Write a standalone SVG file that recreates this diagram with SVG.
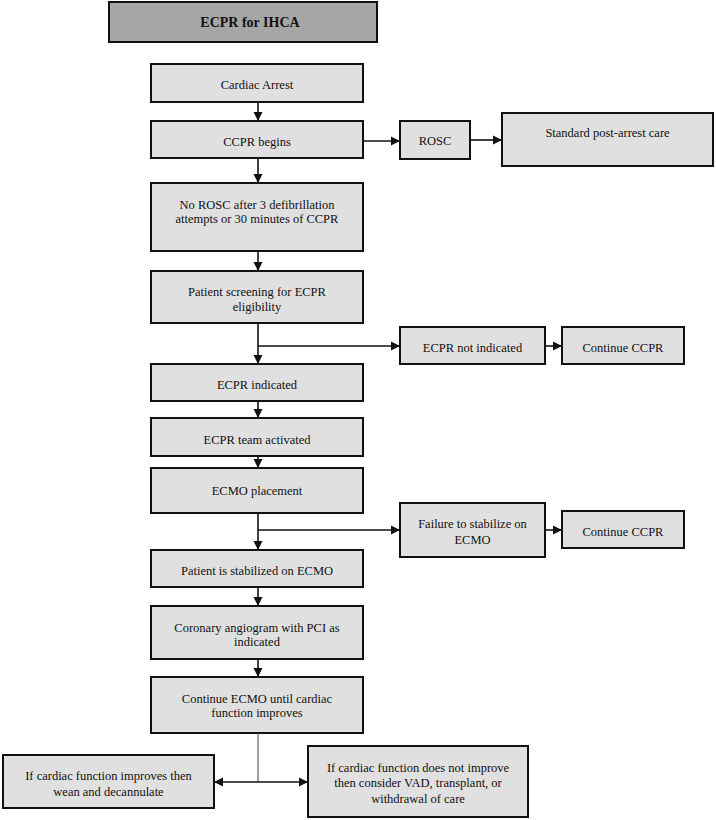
<svg xmlns="http://www.w3.org/2000/svg" width="716" height="820" viewBox="0 0 716 820">
<style>
.box{fill:#e0e0e0;stroke:#111;stroke-width:2}
.title{fill:#a6a6a6;stroke:#111;stroke-width:2}
.c{stroke:#111;stroke-width:1.6;fill:none}
.thin{stroke:#444;stroke-width:1;fill:none}
</style>
<defs>
<marker id="ah" viewBox="0 0 10 10" refX="10" refY="5" markerWidth="9" markerHeight="10" markerUnits="userSpaceOnUse" orient="auto">
<path d="M0,0 L10,5 L0,10 z" fill="#111"/>
</marker>
</defs>
<rect width="716" height="820" fill="#fff"/>
<g font-family="'Liberation Serif', 'Times New Roman', 'DejaVu Serif', serif" font-size="12.5" fill="#111" text-anchor="middle">
<g id="title"><rect class="title" x="109" y="2" width="268" height="40"/><text font-size="14" font-weight="bold" x="250" y="27">ECPR for IHCA</text></g>
<g id="cardiac-arrest"><rect class="box" x="151" y="64" width="212" height="38"/><text x="257" y="89">Cardiac Arrest</text></g>
<g id="ccpr-begins"><rect class="box" x="151" y="121" width="212" height="37"/><text x="257" y="146">CCPR begins</text></g>
<g id="rosc"><rect class="box" x="400" y="121" width="70" height="38"/><text x="435" y="145">ROSC</text></g>
<g id="standard-care"><rect class="box" x="502" y="113" width="211" height="53"/><text x="607.5" y="137">Standard post-arrest care</text></g>
<g id="no-rosc"><rect class="box" x="151" y="183" width="212" height="68"/><text x="257" y="208.5">No ROSC after 3 defibrillation</text><text x="257" y="222.5">attempts or 30 minutes of CCPR</text></g>
<g id="screening"><rect class="box" x="151" y="271" width="212" height="52"/><text x="257" y="296">Patient screening for ECPR</text><text x="257" y="310.5">eligibility</text></g>
<g id="ecpr-not-indicated"><rect class="box" x="400" y="327" width="145" height="37"/><text x="472.5" y="352">ECPR not indicated</text></g>
<g id="continue-ccpr-1"><rect class="box" x="562" y="327" width="122" height="37"/><text x="623" y="352">Continue CCPR</text></g>
<g id="ecpr-indicated"><rect class="box" x="151" y="364" width="212" height="37"/><text x="257" y="389">ECPR indicated</text></g>
<g id="team-activated"><rect class="box" x="151" y="418" width="212" height="38"/><text x="257" y="443.5">ECPR team activated</text></g>
<g id="ecmo-placement"><rect class="box" x="151" y="468" width="212" height="45"/><text x="257" y="494.5">ECMO placement</text></g>
<g id="failure"><rect class="box" x="400" y="503" width="145" height="54"/><text x="472.5" y="528">Failure to stabilize on</text><text x="472.5" y="543.5">ECMO</text></g>
<g id="continue-ccpr-2"><rect class="box" x="562" y="511" width="122" height="37"/><text x="623" y="536">Continue CCPR</text></g>
<g id="stabilized"><rect class="box" x="151" y="550" width="212" height="37"/><text x="257" y="574.5">Patient is stabilized on ECMO</text></g>
<g id="angiogram"><rect class="box" x="151" y="606" width="212" height="53"/><text x="257" y="631.5">Coronary angiogram with PCI as</text><text x="257" y="646">indicated</text></g>
<g id="continue-ecmo"><rect class="box" x="151" y="677" width="212" height="56"/><text x="257" y="703">Continue ECMO until cardiac</text><text x="257" y="717">function improves</text></g>
<g id="wean"><rect class="box" x="3" y="755" width="211" height="53"/><text x="108.5" y="780">If cardiac function improves then</text><text x="108.5" y="796">wean and decannulate</text></g>
<g id="no-improve"><rect class="box" x="308" y="746" width="220" height="71"/><text x="418" y="772">If cardiac function does not improve</text><text x="418" y="787">then consider VAD, transplant, or</text><text x="418" y="803">withdrawal of care</text></g>
</g>
<g id="connectors">
<line class="c" x1="258" y1="102" x2="258" y2="121" marker-end="url(#ah)"/>
<line class="c" x1="258" y1="158" x2="258" y2="183" marker-end="url(#ah)"/>
<line class="c" x1="363" y1="141" x2="400" y2="141" marker-end="url(#ah)"/>
<line class="c" x1="470" y1="140" x2="502" y2="140" marker-end="url(#ah)"/>
<line class="c" x1="258" y1="251" x2="258" y2="271" marker-end="url(#ah)"/>
<line class="c" x1="258" y1="323" x2="258" y2="364" marker-end="url(#ah)"/>
<line class="c" x1="258" y1="346" x2="400" y2="346" marker-end="url(#ah)"/>
<line class="c" x1="545" y1="346" x2="562" y2="346" marker-end="url(#ah)"/>
<line class="c" x1="258" y1="401" x2="258" y2="418" marker-end="url(#ah)"/>
<line class="c" x1="258" y1="456" x2="258" y2="468" marker-end="url(#ah)"/>
<line class="c" x1="258" y1="513" x2="258" y2="550" marker-end="url(#ah)"/>
<line class="c" x1="258" y1="530" x2="400" y2="530" marker-end="url(#ah)"/>
<line class="c" x1="545" y1="530" x2="562" y2="530" marker-end="url(#ah)"/>
<line class="c" x1="258" y1="587" x2="258" y2="606" marker-end="url(#ah)"/>
<line class="c" x1="258" y1="659" x2="258" y2="677" marker-end="url(#ah)"/>
<line class="thin" x1="258" y1="733" x2="258" y2="782"/>
<line class="c" x1="258" y1="782" x2="214" y2="782" marker-end="url(#ah)"/>
<line class="c" x1="258" y1="782" x2="308" y2="782" marker-end="url(#ah)"/>
</g>
</svg>
